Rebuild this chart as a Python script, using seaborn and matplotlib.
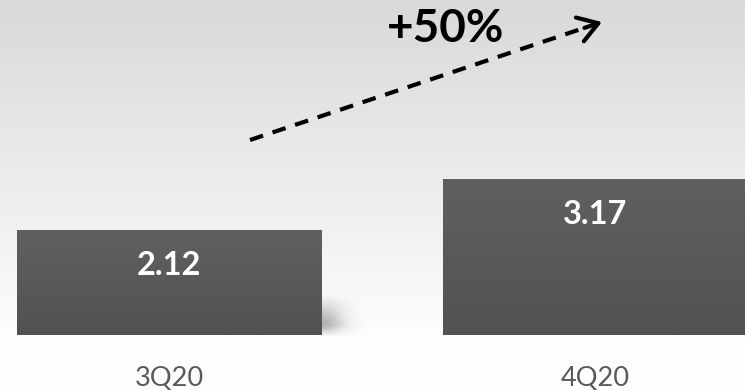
import numpy as np
import pandas as pd
import matplotlib
matplotlib.use("Agg")
import matplotlib.pyplot as plt
import seaborn as sns

# ---- data ----
categories = ["3Q20", "4Q20"]
values = [2.12, 3.17]
value_labels = ["2.12", "3.17"]
growth_label = "+50%"

sns.set_style("white")
plt.rcParams['font.family'] = ['Lato', 'DejaVu Sans']

W, H = 745, 390
fig = plt.figure(figsize=(W / 100, H / 100), dpi=100)

# background gradient
bg = fig.add_axes([0, 0, 1, 1], zorder=0)
yy = np.linspace(0, 1, 400)[:, None]  # 0 top -> 1 bottom
v = np.clip(217 + (253 - 217) * (yy / 0.86), 0, 254) / 255.0
grad = np.repeat(v, 2, axis=1)
bg.imshow(np.dstack([grad, grad, grad]), aspect='auto', extent=[0, 1, 0, 1],
          origin='upper', interpolation='bilinear')
bg.set_xlim(0, 1)
bg.set_ylim(0, 1)
bg.axis('off')

# shadow to the right of first bar (figure pixel coords)
sx = np.linspace(0, 1, 60)[None, :]
sy = np.linspace(0, 1, 60)[:, None]  # 0 top -> 1 bottom
alpha = 0.30 * np.exp(-(sx / 0.5) ** 2) * np.clip((sy - 0.05) / 0.6, 0, 1) * np.clip((1.0 - sy) / 0.25, 0, 1)
shadow = np.zeros((60, 60, 4))
shadow[..., 3] = alpha
bg.imshow(shadow, aspect='auto', extent=[321 / W, 365 / W, 1 - 337 / H, 1 - 293 / H],
          origin='upper', interpolation='bilinear', zorder=2)

df = pd.DataFrame({"quarter": categories, "value": values})

ax = fig.add_axes([0, 55 / H, 1, 335 / H], zorder=1)
ax.patch.set_alpha(0)
sns.barplot(data=df, x="quarter", y="value", color="#585858", width=0.714,
            ax=ax, saturation=1)
ax.set_xlim(-0.3967, 1.352)
ax.set_ylim(0, 6.795)
ax.set_xlabel("")
ax.set_ylabel("")
ax.set_yticks([])
for s in ax.spines.values():
    s.set_visible(False)
ax.tick_params(axis='x', length=0, pad=22, labelsize=19.5, labelcolor="#595959")

# bar gradient fill clipped to each bar
bgrad = np.linspace(96, 82, 100)[:, None] / 255.0
bgrad = np.repeat(bgrad, 2, axis=1)
bimg = np.dstack([bgrad, bgrad, bgrad])
for p in ax.patches:
    x0, y0 = p.get_x(), p.get_y()
    w, h = p.get_width(), p.get_height()
    im = ax.imshow(bimg, aspect='auto', extent=[x0, x0 + w, y0, y0 + h],
                   origin='upper', interpolation='bilinear', zorder=3)
    im.set_clip_path(p)
    p.set_edgecolor('none')
ax.set_xlim(-0.3967, 1.352)
ax.set_ylim(0, 6.795)

# value labels
for i, (val, lab) in enumerate(zip(values, value_labels)):
    ax.annotate(lab, xy=(i, val), xytext=(0, -25.5), textcoords='offset points',
                ha='center', va='center', color='white', fontsize=23.5,
                fontweight='bold', zorder=5)

# growth annotation: dashed line + open arrow head (figure coords)
x1, y1 = 250 / W, 1 - 140 / H
x2, y2 = 602 / W, 1 - 22 / H
fx = np.array([x1, x1 + (x2 - x1) * 0.95])
fy = np.array([y1, y1 + (y2 - y1) * 0.95])
fig.add_artist(plt.Line2D(fx, fy, transform=fig.transFigure, color='black',
                          lw=3.0, linestyle=(0, (3.3, 2.4)), solid_capstyle='butt',
                          dash_capstyle='butt', zorder=6))
ax.annotate("", xy=(x2, y2), xycoords='figure fraction',
            xytext=(x1 + (x2 - x1) * 0.95, y1 + (y2 - y1) * 0.95),
            textcoords='figure fraction',
            arrowprops=dict(arrowstyle='->,head_length=0.7,head_width=0.45',
                            color='black', lw=3.0, mutation_scale=20,
                            shrinkA=0, shrinkB=0), zorder=6)
fig.text(446 / W, 1 - 29 / H, growth_label, ha='center', va='center',
         fontsize=33, fontweight='bold', color='black', zorder=6)

fig.savefig("out.png", dpi=100)
